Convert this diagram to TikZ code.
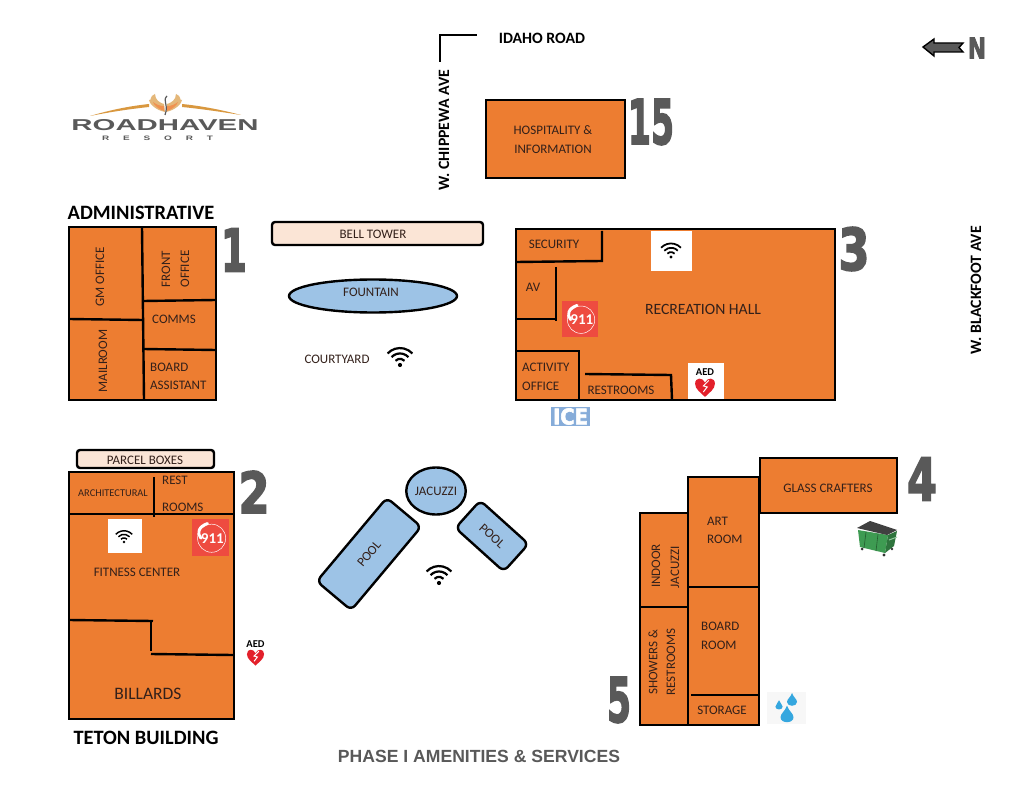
\documentclass[tikz,border=0pt]{standalone}
\usepackage{fontspec}
\setmainfont{Carlito}
\newfontfamily\numfont[UprightFont=* Bold, FakeBold=3]{DejaVu Sans}
\newfontfamily\headfont{Liberation Sans}
\usetikzlibrary{shapes.geometric, positioning}
\definecolor{roomfill}{HTML}{ED7D31}
\definecolor{waterfill}{HTML}{9DC3E6}
\definecolor{peach}{HTML}{FBE5D6}
\definecolor{inktext}{HTML}{33201A}
\definecolor{numgray}{HTML}{595959}
\definecolor{alarmred}{HTML}{EE4B40}
\definecolor{heartred}{HTML}{E3202B}
\definecolor{gold}{HTML}{D9983F}
\definecolor{bingreen}{HTML}{3E9B52}
\definecolor{dropblue}{HTML}{35A7DF}
\definecolor{iceblue}{HTML}{86ACD9}

% wifi sign: dot at the base
\newcommand{\wifisign}[3]{%
	\fill (#1,#2) circle (#3*1.9);
	\foreach \r in {5.6,10.5,15.4}
		\draw[line width=#3*2pt] (#1,#2) ++(223:#3*\r) arc (223:317:#3*\r);
}
% red telephone square, top left corner and side
\newcommand{\alarmsign}[3]{%
	\fill[alarmred] (#1,#2) rectangle ++(#3,#3);
	\draw[white, line width=0.5pt] (#1+#3*0.53,#2+#3*0.52) circle (#3*0.38);
	\draw[white, line width=2.8pt, line cap=round] (#1+#3*0.42,#2+#3*0.12) .. controls (#1+#3*0.18,#2+#3*0.2) and (#1+#3*0.12,#2+#3*0.38) .. (#1+#3*0.24,#2+#3*0.52);
	\node[alarmtext] at (#1+#3*0.55,#2+#3*0.52) {911};
}
% heart with its label
\newcommand{\aedsign}[3]{%
	\node[aedtext] at (#1,#2-#3*14) {AED};
	\begin{scope}[shift={(#1,#2)}, scale=#3]
		\fill[heartred] (0,9) .. controls (-4,5) and (-9,2) .. (-9,-3) .. controls (-9,-9) and (-2,-9) .. (0,-4) .. controls (2,-9) and (9,-9) .. (9,-3) .. controls (9,2) and (4,5) .. (0,9) -- cycle;
		\draw[white, line width=1pt] (3.5,-6) -- (-1.5,-1) -- (2,0) -- (-1.5,4.5);
	\end{scope}
}
\newcommand{\dropsign}[3]{%
	\fill[dropblue] (#1,#2-#3*1.6) .. controls (#1+#3*0.3,#2-#3*0.7) and (#1+#3,#2-#3*0.4) .. (#1+#3,#2+#3*0.2) .. controls (#1+#3,#2+#3*1.2) and (#1-#3,#2+#3*1.2) .. (#1-#3,#2+#3*0.2) .. controls (#1-#3,#2-#3*0.4) and (#1-#3*0.3,#2-#3*0.7) .. (#1,#2-#3*1.6) -- cycle;
}

\begin{document}
\begin{tikzpicture}[x=1pt, y=-1pt, line join=miter,
	room/.style={draw=black, line width=2.4pt, fill=roomfill},
	wall/.style={draw=black, line width=2.4pt},
	water/.style={draw=black, line width=2.4pt, fill=waterfill},
	label/.style={text=inktext, font=\fontsize{13}{15}\selectfont, inner sep=0pt},
	smalllabel/.style={label, font=\fontsize{10.4}{12}\selectfont},
	heading/.style={text=black, font=\fontsize{20.4}{24}\selectfont\bfseries, inner sep=0pt},
	roadname/.style={text=black, font=\fontsize{15.8}{18}\selectfont\bfseries, inner sep=0pt},
	number/.style={text=numgray, inner sep=0pt},
	alarmtext/.style={text=white, font=\fontsize{15}{17}\selectfont\bfseries, inner sep=0pt},
	aedtext/.style={text=black, font=\fontsize{10.5}{12}\selectfont\bfseries, inner sep=0pt},
	banner/.style={draw=black, line width=2.4pt, fill=peach, rounded corners=3pt}]

	\useasboundingbox (0,0) rectangle (1024,791);
	\fill[white] (0,0) rectangle (1024,791);

	% logo
	\fill[gold] (90,116) .. controls (110,110) and (130,106) .. (149,104) -- (149,107) .. controls (130,109) and (110,112) .. (90,116) -- cycle;
	\fill[gold] (241,115) .. controls (222,110) and (202,106) .. (182,104) -- (182,107) .. controls (202,109) and (222,112) .. (241,115) -- cycle;
	\fill[gold!70!white] (165,112) .. controls (155,110) and (149,103) .. (149,100) .. controls (152,101) and (149,96) .. (155,94) .. controls (155,100) and (160,103) .. (164,104) -- cycle;
	\fill[gold!70!white] (166,112) .. controls (176,110) and (182,103) .. (182,100) .. controls (179,101) and (182,96) .. (176,94) .. controls (176,100) and (171,103) .. (167,104) -- cycle;
	\fill[roomfill!85!white] (164,111) .. controls (158,109) and (154,105) .. (153,102) .. controls (157,105) and (160,106) .. (164,106) -- cycle;
	\fill[roomfill!85!white] (167,111) .. controls (173,109) and (177,105) .. (178,102) .. controls (174,105) and (171,106) .. (167,106) -- cycle;
	\draw[numgray, line width=1.2pt] (167,96) .. controls (162,101) and (169,104) .. (165,115);
	\node[inner sep=0pt, text=numgray] (logoname) at (165,125) {\resizebox{187pt}{11pt}{\headfont\bfseries ROADHAVEN}};
	\node[inner sep=0pt, text=numgray] (logosub) at (157.5,138) {\resizebox{111pt}{4.5pt}{\headfont\bfseries R\ \ \ \ \ E\ \ \ \ \ S\ \ \ \ \ O\ \ \ \ \ R\ \ \ \ \ T}};

	% roads and compass
	\draw[wall] (440,62) -- (440,35) -- (477,35);
	\node[roadname] (idaho) at (542,38) {IDAHO ROAD};
	\node[roadname, rotate=90] (chippewa) at (444,130) {W. CHIPPEWA AVE};
	\node[roadname, rotate=90] (blackfoot) at (976,290) {W. BLACKFOOT AVE};
	\draw[draw=black, line width=1.4pt, fill=numgray] (923,47) -- (934,39) -- (934,43) -- (963,43) -- (959,47.5) -- (963,52) -- (934,52) -- (934,56) -- cycle;
	\node[number] (north) at (977,48) {\resizebox{18pt}{21pt}{\numfont N}};

	% hospitality
	\draw[room] (486,100) rectangle (625,178);
	\node[label] (hospa) at (553,130) {HOSPITALITY \&};
	\node[label] (hospb) at (553,149) {INFORMATION};
	\node[number] (num15) at (651,122) {\resizebox{46pt}{45pt}{\numfont 15}};

	% administrative
	\node[heading] (admin) at (141,213) {ADMINISTRATIVE};
	\draw[room] (69,227) rectangle (216,400);
	\draw[wall] (142,227) -- (144,400);
	\draw[wall] (69,319) -- (143,320);
	\draw[wall] (143,301) -- (216,300);
	\draw[wall] (143,349) -- (216,350);
	\node[label, rotate=90] (gm) at (100,277) {GM OFFICE};
	\node[label, rotate=90] (mail) at (103,361) {MAILROOM};
	\node[label, rotate=90] (fronta) at (166,269) {FRONT};
	\node[label, rotate=90] (frontb) at (185,269) {OFFICE};
	\node[label] (comms) at (174,319) {COMMS};
	\node[label, anchor=west] (boarda) at (150,367) {BOARD};
	\node[label, anchor=west] (boardb) at (150,385) {ASSISTANT};
	\node[number] (num1) at (234,250) {\resizebox{26pt}{43pt}{\numfont 1}};

	% teton building
	\draw[banner] (77,450) rectangle (214,468);
	\node[label] (parcel) at (145,460) {PARCEL BOXES};
	\draw[room] (69,472) rectangle (234,719);
	\draw[wall] (69,514) -- (233,514);
	\draw[wall] (154,477) -- (154,517);
	\draw[wall] (69,620) -- (153,621);
	\draw[wall] (151,621) -- (151,651);
	\draw[wall] (151,654) -- (233,655);
	\node[smalllabel] (arch) at (113,493) {ARCHITECTURAL};
	\node[label, anchor=west] (resta) at (162,480) {REST};
	\node[label, anchor=west] (restb) at (162,507) {ROOMS};
	\fill[white] (108,519) rectangle (142,553);
	\wifisign{124}{542}{0.73}
	\alarmsign{192}{519}{37}
	\node[label] (fitness) at (137,572) {FITNESS CENTER};
	\node[label, font=\fontsize{17.5}{20}\selectfont] (billards) at (148,694) {BILLARDS};
	\node[heading] (teton) at (146,738) {TETON BUILDING};
	\aedsign{255.5}{657}{0.95}
	\node[number] (num2) at (254,492) {\resizebox{31pt}{42pt}{\numfont 2}};

	% courtyard
	\draw[banner] (272,222) rectangle (483,245);
	\node[label] (bell) at (373,234) {BELL TOWER};
	\node[water, ellipse, minimum width=168pt, minimum height=33pt, inner sep=0pt] (fountain) at (373,296) {};
	\node[label] (fountname) at (371,292) {FOUNTAIN};
	\node[label] (court) at (337,359) {COURTYARD};
	\wifisign{400}{365}{1.1}

	% pools
	\node[water, label, ellipse, minimum width=58pt, minimum height=47pt] (jacuzzi) at (436,491) {JACUZZI};
	\node[water, label, rectangle, rounded corners=6pt, rotate=50, minimum width=109pt, minimum height=45pt] (poola) at (369,554) {POOL};
	\node[water, label, rectangle, rounded corners=6pt, rotate=-42, minimum width=65pt, minimum height=37pt] (poolb) at (492,536) {POOL};
	\wifisign{439}{583}{1.1}

	% recreation hall
	\draw[room] (516,229) rectangle (835,400);
	\draw[wall] (602,231) -- (602,261) -- (516,262);
	\draw[wall] (556,267) -- (556,321);
	\draw[wall] (516,319) -- (556,319);
	\draw[wall] (516,351) -- (579,351) -- (579,400);
	\draw[wall] (585,374) -- (671,375) -- (672,400);
	\node[label] (security) at (554,244) {SECURITY};
	\node[label] (av) at (533,287) {AV};
	\node[label, anchor=west] (activa) at (522,367) {ACTIVITY};
	\node[label, anchor=west] (activb) at (522,386) {OFFICE};
	\node[label] (restrooms) at (621,390) {RESTROOMS};
	\node[label, font=\fontsize{15.7}{18}\selectfont] (rechall) at (703,309) {RECREATION HALL};
	\fill[white] (651,231) rectangle (692,271);
	\wifisign{671}{257}{0.88}
	\alarmsign{562}{301}{36}
	\fill[white] (688,363) rectangle (724,399);
	\aedsign{705}{387}{1.1}
	\node[number] (num3) at (854,249) {\resizebox{31pt}{43pt}{\numfont 3}};
	\fill[iceblue] (551,407) rectangle (590,426);
	\node[text=white, inner sep=0pt] (ice) at (570.5,416.5) {\resizebox{35pt}{16pt}{\numfont ICE}};

	% glass crafters and phase one block
	\draw[room] (760,458) rectangle (897,513);
	\draw[room] (688,477) rectangle (759,725);
	\draw[room] (640,513) rectangle (688,725);
	\draw[wall] (688,587) -- (759,587);
	\draw[wall] (691,695) -- (759,695);
	\draw[wall] (640,607) -- (688,607);
	\node[label] (glass) at (828,488) {GLASS CRAFTERS};
	\node[label, anchor=west] (arta) at (707,521) {ART};
	\node[label, anchor=west] (artb) at (707,539) {ROOM};
	\node[label, anchor=west] (rooma) at (701,626) {BOARD};
	\node[label, anchor=west] (roomb) at (701,645) {ROOM};
	\node[label] (storage) at (722,710) {STORAGE};
	\node[label, rotate=90] (indoora) at (656,566) {INDOOR};
	\node[label, rotate=90] (indoorb) at (675,567) {JACUZZI};
	\node[label, rotate=90] (showera) at (653,662) {SHOWERS \&};
	\node[label, rotate=90] (showerb) at (671,662) {RESTROOMS};
	\node[number] (num4) at (922,479) {\resizebox{30pt}{43pt}{\numfont 4}};
	\node[number] (num5) at (619,700) {\resizebox{24pt}{45pt}{\numfont 5}};

	% dumpster
	\fill[bingreen] (858,530) -- (888,535) -- (885,553) -- (860,547) -- cycle;
	\fill[bingreen!75!black] (888,535) -- (897,531) -- (894,546) -- (885,553) -- cycle;
	\fill[black!75] (857,528) -- (870,521) -- (897,530) -- (887,535) -- cycle;
	\draw[bingreen!60!black, line width=0.6pt] (866,532) -- (864,548);
	\draw[bingreen!60!black, line width=0.6pt] (878,534) -- (876,551);
	\draw[bingreen!55!white, line width=1pt] (889,540) -- (897,537);
	\fill[black!80] (862,549) circle (1.5);
	\fill[black!80] (884,555) circle (1.6);
	\fill[black!80] (892,549) circle (1.3);

	% water drops
	\fill[black!3] (767,692) rectangle (806,724);
	\dropsign{779}{706}{3.6}
	\dropsign{792}{701}{5}
	\dropsign{787}{716}{6.5}

	\node[text=numgray, inner sep=0pt] (phase) at (479,756) {\resizebox{282pt}{!}{\headfont\fontsize{15}{18}\selectfont\bfseries PHASE I AMENITIES \& SERVICES}};
\end{tikzpicture}
\end{document}
